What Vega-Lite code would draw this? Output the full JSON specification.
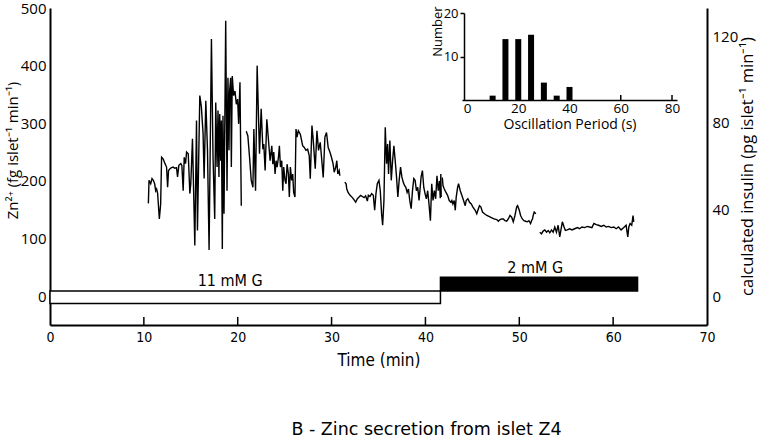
{
  "$schema": "https://vega.github.io/schema/vega-lite/v6.json",
  "width": 657,
  "height": 317,
  "autosize": "none",
  "padding": {"left": 50, "top": 8, "right": 51, "bottom": 111},
  "background": "white",
  "title": {
    "text": "B - Zinc secretion from islet Z4",
    "orient": "bottom",
    "anchor": "middle",
    "frame": "group",
    "dx": 48,
    "offset": 53,
    "font": "DejaVu Sans",
    "fontSize": 17.5,
    "fontWeight": "normal",
    "color": "black"
  },
  "config": {
    "view": {"stroke": null},
    "axis": {"grid": false, "domainColor": "black", "tickColor": "black", "labelColor": "black", "titleColor": "black", "labelOverlap": false}
  },
  "datasets": {
    "trace": [
      {"t": 10.48, "zn": 161, "seg": 1}, {"t": 10.55, "zn": 201, "seg": 1}, {"t": 10.73, "zn": 195, "seg": 1}, {"t": 10.87, "zn": 204, "seg": 1},
      {"t": 11.01, "zn": 201, "seg": 1}, {"t": 11.15, "zn": 195, "seg": 1}, {"t": 11.26, "zn": 183, "seg": 1}, {"t": 11.36, "zn": 186, "seg": 1},
      {"t": 11.47, "zn": 178, "seg": 1}, {"t": 11.65, "zn": 134, "seg": 1}, {"t": 11.79, "zn": 160, "seg": 1}, {"t": 11.89, "zn": 241, "seg": 1},
      {"t": 12.07, "zn": 238, "seg": 1}, {"t": 12.25, "zn": 230, "seg": 1}, {"t": 12.42, "zn": 224, "seg": 1}, {"t": 12.53, "zn": 189, "seg": 1},
      {"t": 12.63, "zn": 218, "seg": 1}, {"t": 12.78, "zn": 221, "seg": 1}, {"t": 12.95, "zn": 223, "seg": 1}, {"t": 13.13, "zn": 224, "seg": 1},
      {"t": 13.3, "zn": 222, "seg": 1}, {"t": 13.48, "zn": 223, "seg": 1}, {"t": 13.59, "zn": 207, "seg": 1}, {"t": 13.73, "zn": 227, "seg": 1},
      {"t": 13.94, "zn": 230, "seg": 1}, {"t": 14.05, "zn": 227, "seg": 1}, {"t": 14.19, "zn": 183, "seg": 1}, {"t": 14.3, "zn": 241, "seg": 1},
      {"t": 14.44, "zn": 230, "seg": 1}, {"t": 14.55, "zn": 250, "seg": 1}, {"t": 14.73, "zn": 247, "seg": 1}, {"t": 14.9, "zn": 178, "seg": 1},
      {"t": 15.0, "zn": 195, "seg": 1}, {"t": 15.18, "zn": 273, "seg": 1}, {"t": 15.43, "zn": 88, "seg": 1}, {"t": 15.61, "zn": 305, "seg": 1},
      {"t": 15.71, "zn": 114, "seg": 1}, {"t": 15.96, "zn": 348, "seg": 1}, {"t": 16.13, "zn": 328, "seg": 1}, {"t": 16.31, "zn": 282, "seg": 1},
      {"t": 16.42, "zn": 204, "seg": 1}, {"t": 16.6, "zn": 339, "seg": 1}, {"t": 16.78, "zn": 253, "seg": 1}, {"t": 16.95, "zn": 80, "seg": 1},
      {"t": 17.2, "zn": 446, "seg": 1}, {"t": 17.37, "zn": 241, "seg": 1}, {"t": 17.55, "zn": 134, "seg": 1}, {"t": 17.66, "zn": 336, "seg": 1},
      {"t": 17.8, "zn": 224, "seg": 1}, {"t": 17.9, "zn": 322, "seg": 1}, {"t": 18.0, "zn": 207, "seg": 1}, {"t": 18.08, "zn": 316, "seg": 1},
      {"t": 18.19, "zn": 235, "seg": 1}, {"t": 18.26, "zn": 305, "seg": 1}, {"t": 18.36, "zn": 82, "seg": 1}, {"t": 18.43, "zn": 313, "seg": 1},
      {"t": 18.54, "zn": 143, "seg": 1}, {"t": 18.72, "zn": 478, "seg": 1}, {"t": 18.86, "zn": 183, "seg": 1}, {"t": 18.96, "zn": 379, "seg": 1},
      {"t": 19.07, "zn": 253, "seg": 1}, {"t": 19.14, "zn": 356, "seg": 1}, {"t": 19.25, "zn": 379, "seg": 1}, {"t": 19.32, "zn": 224, "seg": 1},
      {"t": 19.42, "zn": 382, "seg": 1}, {"t": 19.56, "zn": 348, "seg": 1}, {"t": 19.71, "zn": 356, "seg": 1}, {"t": 19.85, "zn": 333, "seg": 1},
      {"t": 19.99, "zn": 342, "seg": 1}, {"t": 20.1, "zn": 299, "seg": 1}, {"t": 20.24, "zn": 371, "seg": 1}, {"t": 20.38, "zn": 157, "seg": 1},

      {"t": 20.91, "zn": 286, "seg": 2}, {"t": 21.08, "zn": 278, "seg": 2}, {"t": 21.26, "zn": 241, "seg": 2}, {"t": 21.44, "zn": 201, "seg": 2},
      {"t": 21.62, "zn": 189, "seg": 2}, {"t": 21.72, "zn": 290, "seg": 2}, {"t": 21.9, "zn": 183, "seg": 2}, {"t": 22.07, "zn": 400, "seg": 2},
      {"t": 22.15, "zn": 351, "seg": 2}, {"t": 22.32, "zn": 247, "seg": 2}, {"t": 22.5, "zn": 325, "seg": 2}, {"t": 22.68, "zn": 255, "seg": 2},
      {"t": 22.78, "zn": 264, "seg": 2}, {"t": 22.92, "zn": 218, "seg": 2}, {"t": 23.1, "zn": 307, "seg": 2}, {"t": 23.28, "zn": 270, "seg": 2},
      {"t": 23.45, "zn": 235, "seg": 2}, {"t": 23.63, "zn": 261, "seg": 2}, {"t": 23.74, "zn": 229, "seg": 2}, {"t": 23.84, "zn": 250, "seg": 2},
      {"t": 23.98, "zn": 212, "seg": 2}, {"t": 24.09, "zn": 235, "seg": 2}, {"t": 24.2, "zn": 224, "seg": 2}, {"t": 24.34, "zn": 241, "seg": 2},
      {"t": 24.44, "zn": 261, "seg": 2}, {"t": 24.55, "zn": 224, "seg": 2}, {"t": 24.69, "zn": 235, "seg": 2}, {"t": 24.8, "zn": 183, "seg": 2},
      {"t": 24.9, "zn": 224, "seg": 2}, {"t": 25.04, "zn": 201, "seg": 2}, {"t": 25.15, "zn": 195, "seg": 2}, {"t": 25.26, "zn": 229, "seg": 2},
      {"t": 25.4, "zn": 212, "seg": 2}, {"t": 25.5, "zn": 172, "seg": 2}, {"t": 25.61, "zn": 224, "seg": 2}, {"t": 25.75, "zn": 201, "seg": 2},
      {"t": 25.86, "zn": 212, "seg": 2}, {"t": 25.96, "zn": 180, "seg": 2}, {"t": 26.1, "zn": 172, "seg": 2}, {"t": 26.21, "zn": 290, "seg": 2},
      {"t": 26.32, "zn": 276, "seg": 2}, {"t": 26.46, "zn": 287, "seg": 2}, {"t": 26.67, "zn": 281, "seg": 2}, {"t": 26.92, "zn": 261, "seg": 2},
      {"t": 27.09, "zn": 258, "seg": 2}, {"t": 27.27, "zn": 253, "seg": 2}, {"t": 27.45, "zn": 255, "seg": 2}, {"t": 27.62, "zn": 244, "seg": 2},
      {"t": 27.73, "zn": 204, "seg": 2}, {"t": 27.91, "zn": 296, "seg": 2}, {"t": 28.05, "zn": 270, "seg": 2}, {"t": 28.26, "zn": 221, "seg": 2},
      {"t": 28.44, "zn": 287, "seg": 2}, {"t": 28.61, "zn": 253, "seg": 2}, {"t": 28.79, "zn": 267, "seg": 2}, {"t": 28.93, "zn": 241, "seg": 2},
      {"t": 29.11, "zn": 206, "seg": 2}, {"t": 29.29, "zn": 276, "seg": 2}, {"t": 29.46, "zn": 284, "seg": 2}, {"t": 29.64, "zn": 258, "seg": 2},
      {"t": 29.82, "zn": 250, "seg": 2}, {"t": 29.99, "zn": 241, "seg": 2}, {"t": 30.17, "zn": 229, "seg": 2}, {"t": 30.28, "zn": 215, "seg": 2},
      {"t": 30.45, "zn": 224, "seg": 2}, {"t": 30.56, "zn": 235, "seg": 2}, {"t": 30.66, "zn": 212, "seg": 2}, {"t": 30.81, "zn": 218, "seg": 2},
      {"t": 30.88, "zn": 209, "seg": 2},

      {"t": 31.41, "zn": 198, "seg": 3}, {"t": 31.55, "zn": 195, "seg": 3}, {"t": 31.62, "zn": 186, "seg": 3}, {"t": 31.76, "zn": 180, "seg": 3},
      {"t": 31.97, "zn": 175, "seg": 3}, {"t": 32.22, "zn": 171, "seg": 3}, {"t": 32.4, "zn": 167, "seg": 3}, {"t": 32.57, "zn": 163, "seg": 3},
      {"t": 32.75, "zn": 169, "seg": 3}, {"t": 32.93, "zn": 172, "seg": 3}, {"t": 33.1, "zn": 175, "seg": 3}, {"t": 33.28, "zn": 173, "seg": 3},
      {"t": 33.46, "zn": 171, "seg": 3}, {"t": 33.63, "zn": 174, "seg": 3}, {"t": 33.81, "zn": 165, "seg": 3}, {"t": 33.92, "zn": 175, "seg": 3},
      {"t": 34.09, "zn": 173, "seg": 3}, {"t": 34.27, "zn": 178, "seg": 3}, {"t": 34.45, "zn": 175, "seg": 3}, {"t": 34.59, "zn": 149, "seg": 3},
      {"t": 34.73, "zn": 178, "seg": 3}, {"t": 34.87, "zn": 195, "seg": 3}, {"t": 35.05, "zn": 201, "seg": 3}, {"t": 35.19, "zn": 183, "seg": 3},
      {"t": 35.33, "zn": 143, "seg": 3}, {"t": 35.44, "zn": 123, "seg": 3}, {"t": 35.58, "zn": 166, "seg": 3}, {"t": 35.72, "zn": 293, "seg": 3},
      {"t": 35.86, "zn": 230, "seg": 3}, {"t": 35.97, "zn": 264, "seg": 3}, {"t": 36.07, "zn": 212, "seg": 3}, {"t": 36.21, "zn": 270, "seg": 3},
      {"t": 36.36, "zn": 201, "seg": 3}, {"t": 36.5, "zn": 235, "seg": 3}, {"t": 36.64, "zn": 261, "seg": 3}, {"t": 36.78, "zn": 235, "seg": 3},
      {"t": 36.92, "zn": 207, "seg": 3}, {"t": 37.06, "zn": 172, "seg": 3}, {"t": 37.2, "zn": 201, "seg": 3}, {"t": 37.35, "zn": 224, "seg": 3},
      {"t": 37.49, "zn": 207, "seg": 3}, {"t": 37.63, "zn": 198, "seg": 3}, {"t": 37.77, "zn": 192, "seg": 3}, {"t": 37.91, "zn": 189, "seg": 3},
      {"t": 38.05, "zn": 180, "seg": 3}, {"t": 38.19, "zn": 186, "seg": 3}, {"t": 38.33, "zn": 166, "seg": 3}, {"t": 38.48, "zn": 152, "seg": 3},
      {"t": 38.62, "zn": 183, "seg": 3}, {"t": 38.76, "zn": 204, "seg": 3}, {"t": 38.9, "zn": 201, "seg": 3}, {"t": 39.04, "zn": 183, "seg": 3},
      {"t": 39.18, "zn": 189, "seg": 3}, {"t": 39.32, "zn": 166, "seg": 3}, {"t": 39.54, "zn": 207, "seg": 3}, {"t": 39.68, "zn": 218, "seg": 3},
      {"t": 39.82, "zn": 189, "seg": 3}, {"t": 39.96, "zn": 178, "seg": 3}, {"t": 40.1, "zn": 169, "seg": 3}, {"t": 40.24, "zn": 183, "seg": 3},
      {"t": 40.38, "zn": 160, "seg": 3}, {"t": 40.53, "zn": 131, "seg": 3}, {"t": 40.67, "zn": 195, "seg": 3}, {"t": 40.81, "zn": 166, "seg": 3},
      {"t": 40.95, "zn": 183, "seg": 3}, {"t": 41.09, "zn": 169, "seg": 3}, {"t": 41.23, "zn": 209, "seg": 3}, {"t": 41.37, "zn": 183, "seg": 3},
      {"t": 41.5, "zn": 200, "seg": 3}, {"t": 41.58, "zn": 170, "seg": 3}, {"t": 41.64, "zn": 212, "seg": 3}, {"t": 41.68, "zn": 172, "seg": 3},

      {"t": 41.8, "zn": 206, "seg": 4}, {"t": 41.87, "zn": 192, "seg": 4}, {"t": 42.01, "zn": 186, "seg": 4}, {"t": 42.19, "zn": 180, "seg": 4},
      {"t": 42.36, "zn": 175, "seg": 4}, {"t": 42.54, "zn": 166, "seg": 4}, {"t": 42.72, "zn": 163, "seg": 4}, {"t": 42.82, "zn": 166, "seg": 4},
      {"t": 42.93, "zn": 160, "seg": 4}, {"t": 43.07, "zn": 166, "seg": 4}, {"t": 43.18, "zn": 149, "seg": 4}, {"t": 43.28, "zn": 172, "seg": 4},
      {"t": 43.43, "zn": 189, "seg": 4}, {"t": 43.53, "zn": 195, "seg": 4}, {"t": 43.71, "zn": 183, "seg": 4}, {"t": 43.88, "zn": 175, "seg": 4},
      {"t": 44.06, "zn": 166, "seg": 4}, {"t": 44.24, "zn": 157, "seg": 4}, {"t": 44.34, "zn": 166, "seg": 4}, {"t": 44.52, "zn": 169, "seg": 4},
      {"t": 44.7, "zn": 163, "seg": 4}, {"t": 44.88, "zn": 160, "seg": 4}, {"t": 45.05, "zn": 155, "seg": 4}, {"t": 45.3, "zn": 149, "seg": 4},
      {"t": 45.47, "zn": 143, "seg": 4}, {"t": 45.65, "zn": 152, "seg": 4}, {"t": 45.76, "zn": 157, "seg": 4}, {"t": 45.9, "zn": 155, "seg": 4},
      {"t": 46.08, "zn": 146, "seg": 4}, {"t": 46.29, "zn": 143, "seg": 4}, {"t": 46.54, "zn": 140, "seg": 4}, {"t": 46.82, "zn": 138, "seg": 4},
      {"t": 47.07, "zn": 136, "seg": 4}, {"t": 47.31, "zn": 134, "seg": 4}, {"t": 47.6, "zn": 133, "seg": 4}, {"t": 47.77, "zn": 130, "seg": 4},
      {"t": 47.95, "zn": 133, "seg": 4}, {"t": 48.13, "zn": 134, "seg": 4}, {"t": 48.3, "zn": 134, "seg": 4}, {"t": 48.48, "zn": 131, "seg": 4},
      {"t": 48.66, "zn": 130, "seg": 4}, {"t": 48.83, "zn": 134, "seg": 4}, {"t": 49.01, "zn": 140, "seg": 4}, {"t": 49.19, "zn": 137, "seg": 4},
      {"t": 49.36, "zn": 129, "seg": 4}, {"t": 49.54, "zn": 140, "seg": 4}, {"t": 49.72, "zn": 155, "seg": 4}, {"t": 49.82, "zn": 157, "seg": 4},
      {"t": 50.0, "zn": 149, "seg": 4}, {"t": 50.14, "zn": 140, "seg": 4}, {"t": 50.32, "zn": 134, "seg": 4}, {"t": 50.5, "zn": 131, "seg": 4},
      {"t": 50.67, "zn": 130, "seg": 4}, {"t": 50.85, "zn": 129, "seg": 4}, {"t": 51.03, "zn": 131, "seg": 4}, {"t": 51.2, "zn": 126, "seg": 4},
      {"t": 51.31, "zn": 131, "seg": 4}, {"t": 51.41, "zn": 134, "seg": 4}, {"t": 51.48, "zn": 140, "seg": 4}, {"t": 51.59, "zn": 146, "seg": 4},
      {"t": 51.77, "zn": 143, "seg": 4},

      {"t": 52.19, "zn": 111, "seg": 5}, {"t": 52.37, "zn": 108, "seg": 5}, {"t": 52.54, "zn": 113, "seg": 5}, {"t": 52.72, "zn": 115, "seg": 5},
      {"t": 52.9, "zn": 111, "seg": 5}, {"t": 53.08, "zn": 114, "seg": 5}, {"t": 53.25, "zn": 110, "seg": 5}, {"t": 53.43, "zn": 115, "seg": 5},
      {"t": 53.61, "zn": 111, "seg": 5}, {"t": 53.78, "zn": 120, "seg": 5}, {"t": 53.96, "zn": 111, "seg": 5}, {"t": 54.14, "zn": 123, "seg": 5},
      {"t": 54.31, "zn": 103, "seg": 5}, {"t": 54.49, "zn": 120, "seg": 5}, {"t": 54.59, "zn": 129, "seg": 5}, {"t": 54.77, "zn": 120, "seg": 5},
      {"t": 54.91, "zn": 114, "seg": 5}, {"t": 55.12, "zn": 115, "seg": 5}, {"t": 55.37, "zn": 117, "seg": 5}, {"t": 55.62, "zn": 115, "seg": 5},
      {"t": 55.9, "zn": 117, "seg": 5}, {"t": 56.19, "zn": 119, "seg": 5}, {"t": 56.43, "zn": 117, "seg": 5}, {"t": 56.68, "zn": 120, "seg": 5},
      {"t": 56.96, "zn": 119, "seg": 5}, {"t": 57.25, "zn": 121, "seg": 5}, {"t": 57.49, "zn": 120, "seg": 5}, {"t": 57.74, "zn": 119, "seg": 5},
      {"t": 57.95, "zn": 126, "seg": 5}, {"t": 58.2, "zn": 124, "seg": 5}, {"t": 58.45, "zn": 123, "seg": 5}, {"t": 58.73, "zn": 121, "seg": 5},
      {"t": 59.01, "zn": 123, "seg": 5}, {"t": 59.26, "zn": 120, "seg": 5}, {"t": 59.51, "zn": 121, "seg": 5}, {"t": 59.79, "zn": 119, "seg": 5},
      {"t": 60.07, "zn": 120, "seg": 5}, {"t": 60.32, "zn": 117, "seg": 5}, {"t": 60.57, "zn": 120, "seg": 5}, {"t": 60.85, "zn": 115, "seg": 5},
      {"t": 61.13, "zn": 119, "seg": 5}, {"t": 61.38, "zn": 123, "seg": 5}, {"t": 61.56, "zn": 103, "seg": 5}, {"t": 61.67, "zn": 120, "seg": 5},
      {"t": 61.81, "zn": 126, "seg": 5}, {"t": 61.98, "zn": 123, "seg": 5}, {"t": 62.12, "zn": 140, "seg": 5}, {"t": 62.19, "zn": 129, "seg": 5}
    ],
    "glucose": [
      {"start": 0, "end": 41.6, "lo": -12.5, "hi": 9, "cond": "11 mM G"},
      {"start": 41.6, "end": 62.6, "lo": 9, "hi": 33, "cond": "2 mM G"}
    ],
    "labels": [
      {"t": 19.2, "zn": 26, "label": "11 mM G"},
      {"t": 51.7, "zn": 49, "label": "2 mM G"}
    ],
    "xticks": [{"t": 10}, {"t": 20}, {"t": 30}, {"t": 40}, {"t": 50}, {"t": 60}],
    "insulin": [{"ins": 0}, {"ins": 120}],
    "hist": [
      {"period": 10, "count": 1}, {"period": 15, "count": 14}, {"period": 20, "count": 14},
      {"period": 25, "count": 15}, {"period": 30, "count": 4}, {"period": 35, "count": 1}, {"period": 40, "count": 3}
    ],
    "histticks": [{"period": 20}, {"period": 40}, {"period": 60}, {"period": 80}]
  },
  "layer": [
    {
      "layer": [
        {
          "data": {"name": "trace"},
          "mark": {"type": "line", "color": "black", "strokeWidth": 1.4},
          "encoding": {
            "x": {
              "field": "t", "type": "quantitative",
              "scale": {"domain": [0, 70], "nice": false, "zero": false},
              "axis": {
                "orient": "bottom", "title": "Time (min)", "values": [0, 10, 20, 30, 40, 50, 60, 70],
                "ticks": false, "domainWidth": 2, "labelPadding": 5, "labelFlush": false,
                "labelFont": "'DejaVu Sans Condensed', 'Liberation Sans Narrow', sans-serif", "labelFontSize": 14,
                "titleFont": "'DejaVu Sans Condensed', 'Liberation Sans Narrow', sans-serif", "titleFontSize": 17,
                "titleFontWeight": "normal", "titlePadding": 8
              }
            },
            "y": {
              "field": "zn", "type": "quantitative",
              "scale": {"domain": [-50, 500], "nice": false, "zero": false},
              "axis": {
                "orient": "left", "title": "Zn²⁺ (fg islet⁻¹ min⁻¹)", "values": [0, 100, 200, 300, 400, 500],
                "ticks": false, "domainWidth": 2, "labelPadding": 4, "labelFlush": false,
                "labelFont": "Open Sans", "labelFontSize": 15,
                "titleFont": "Open Sans", "titleFontSize": 15, "titleFontWeight": "normal",
                "titleAngle": 270, "titleAlign": "center", "titleBaseline": "middle", "titleX": -38, "titleY": 142
              }
            },
            "detail": {"field": "seg", "type": "nominal"}
          }
        },
        {
          "data": {"name": "xticks"},
          "mark": {"type": "rule", "color": "black", "strokeWidth": 1.5},
          "encoding": {
            "x": {"field": "t", "type": "quantitative"},
            "y": {"datum": -50, "type": "quantitative"},
            "y2": {"datum": -36}
          }
        },
        {
          "data": {"name": "glucose"},
          "mark": {"type": "rect", "stroke": "black", "strokeWidth": 1.5},
          "encoding": {
            "x": {"field": "start", "type": "quantitative"},
            "x2": {"field": "end"},
            "y": {"field": "lo", "type": "quantitative"},
            "y2": {"field": "hi"},
            "fill": {"field": "cond", "type": "nominal", "scale": {"domain": ["11 mM G", "2 mM G"], "range": ["white", "black"]}, "legend": null}
          }
        },
        {
          "data": {"name": "labels"},
          "mark": {"type": "text", "font": "'DejaVu Sans Condensed', 'Liberation Sans Narrow', sans-serif", "fontSize": 16, "align": "center", "baseline": "middle", "color": "black"},
          "encoding": {
            "x": {"field": "t", "type": "quantitative"},
            "y": {"field": "zn", "type": "quantitative"},
            "text": {"field": "label"}
          }
        }
      ]
    },
    {
      "data": {"name": "insulin"},
      "mark": {"type": "point", "opacity": 0},
      "encoding": {
        "y": {
          "field": "ins", "type": "quantitative",
          "scale": {"domain": [-13.3, 133], "nice": false, "zero": false},
          "axis": {
            "orient": "right", "title": "calculated insulin  (pg islet⁻¹ min⁻¹)", "values": [0, 40, 80, 120],
            "ticks": false, "domainWidth": 2, "labelPadding": 5, "labelFlush": false,
            "labelFont": "Open Sans", "labelFontSize": 15,
            "titleFont": "Open Sans", "titleFontSize": 16.5, "titleFontWeight": "normal",
            "titleAngle": 270, "titleAlign": "center", "titleBaseline": "middle", "titleX": 40, "titleY": 158
          }
        }
      }
    },
    {
      "layer": [
        {
          "data": {"name": "hist"},
          "mark": {"type": "bar", "color": "black", "width": 6},
          "encoding": {
            "x": {
              "field": "period", "type": "quantitative",
              "scale": {"domain": [0, 80], "range": [412, 627], "nice": false, "zero": false},
              "axis": {
                "orient": "bottom", "offset": -225, "title": "Oscillation Period (s)", "values": [0, 20, 40, 60, 80],
                "ticks": false, "domainWidth": 1.5, "labelPadding": 1, "labelFlush": false,
                "labelFont": "Open Sans", "labelFontSize": 13.5,
                "titleFont": "Open Sans", "titleFontSize": 14, "titleFontWeight": "normal", "titlePadding": 3
              }
            },
            "y": {
              "field": "count", "type": "quantitative",
              "scale": {"domain": [0, 20], "range": [92, 5], "nice": false},
              "axis": {
                "orient": "left", "offset": -414, "title": "Number", "values": [10, 20],
                "tickSize": 4, "tickWidth": 1.5, "domainWidth": 1.5, "labelPadding": 2, "labelFlush": false,
                "labelFont": "Open Sans", "labelFontSize": 13,
                "titleFont": "Open Sans", "titleFontSize": 13, "titleFontWeight": "normal",
                "titleAngle": 270, "titleAlign": "center", "titleBaseline": "middle", "titleX": -27, "titleY": 23
              }
            }
          }
        },
        {
          "data": {"name": "histticks"},
          "mark": {"type": "rule", "color": "black", "strokeWidth": 1.5},
          "encoding": {
            "x": {"field": "period", "type": "quantitative"},
            "y": {"datum": 0, "type": "quantitative"},
            "y2": {"datum": 1.15}
          }
        }
      ]
    }
  ],
  "resolve": {"scale": {"x": "independent", "y": "independent"}}
}
